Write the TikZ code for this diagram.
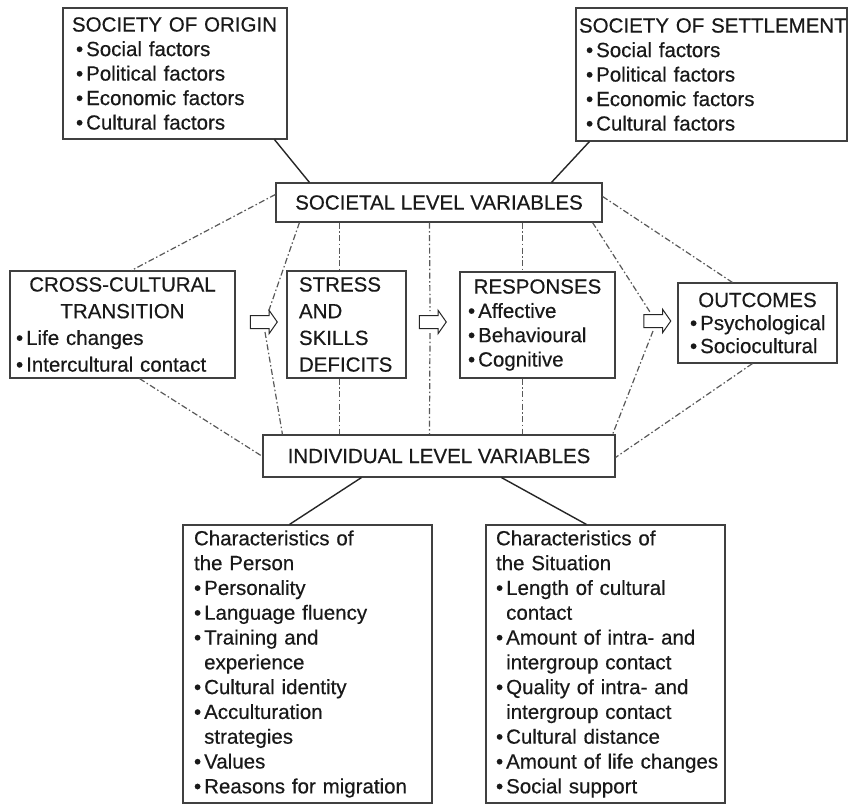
\documentclass[tikz,border=0pt]{standalone}
\usepackage{fontspec}
\setmainfont{Liberation Sans}[FakeBold=0.4]
\usetikzlibrary{shapes.arrows}

% bullet item, continuation line, centred heading, unbroken line
\newcommand\bi[1]{\mbox{\textbullet\hspace{3pt}#1}}
\newcommand\bc[1]{\mbox{\phantom{\textbullet}\hspace{3pt}#1}}
\newcommand\ctr[1]{\makebox[\linewidth][c]{#1}}
\newcommand\oneline[1]{\mbox{#1}}

\begin{document}
\begin{tikzpicture}[x=1pt,y=-1pt,
  box/.style={draw=black!75, line width=1.1pt, rectangle, inner sep=0pt,
    text=black!90, align=left},
  fnt/.style={font=\fontsize{20.5}{#1}\selectfont},
  hollowarrow/.style={single arrow, draw=black!85, line width=1pt, fill=white,
    minimum height=27pt, inner sep=0pt, inner ysep=6pt,
    single arrow head extend=5pt, single arrow tip angle=110},
  link/.style={draw=black!85, line width=1.4pt},
  conn/.style={draw=black!65, line width=1.2pt,
    dash pattern=on 6pt off 2.5pt on 1.5pt off 2.5pt}]

\fill[white] (0,0) rectangle (849,806);
\useasboundingbox (0,0) rectangle (849,806);

% societies
\node[box, fnt=24.5, minimum width=224, minimum height=131, text width=206]
  (origin) at (175,73.5) {\oneline{SOCIETY OF ORIGIN}\\
  \hspace*{4pt}\bi{Social factors}\\
  \hspace*{4pt}\bi{Political factors}\\
  \hspace*{4pt}\bi{Economic factors}\\
  \hspace*{4pt}\bi{Cultural factors}};

\node[box, fnt=24.5, minimum width=271, minimum height=133, text width=265]
  (settlement) at (711.5,74.5) {\oneline{SOCIETY OF SETTLEMENT}\\
  \hspace*{7pt}\bi{Social factors}\\
  \hspace*{7pt}\bi{Political factors}\\
  \hspace*{7pt}\bi{Economic factors}\\
  \hspace*{7pt}\bi{Cultural factors}};

% level variables
\node[box, fnt=24.5, align=center, minimum width=326, minimum height=39]
  (societal) at (439,202.5) {SOCIETAL LEVEL VARIABLES};
\node[box, fnt=24.5, align=center, minimum width=352, minimum height=42]
  (individual) at (439,456) {INDIVIDUAL LEVEL VARIABLES};

% process chain
\node[box, fnt=26.7, minimum width=225, minimum height=107, text width=215]
  (cct) at (122.5,324.5) {\ctr{CROSS-CULTURAL}\\
  \ctr{TRANSITION}\\
  \hspace*{1pt}\bi{Life changes}\\
  \hspace*{1pt}\bi{Intercultural contact}};

\node[box, fnt=26.7, minimum width=119, minimum height=107, text width=95]
  (stress) at (346.5,324.5) {\oneline{STRESS}\\ \oneline{AND}\\ \oneline{SKILLS}\\ \oneline{DEFICITS}};

\node[box, fnt=24.3, minimum width=155, minimum height=106, text width=139]
  (responses) at (537.5,325) {\ctr{RESPONSES}\\
  \bi{Affective}\\
  \bi{Behavioural}\\
  \bi{Cognitive}};

\node[box, fnt=23, minimum width=159, minimum height=80, text width=135]
  (outcomes) at (757.5,323) {\ctr{OUTCOMES}\\
  \bi{Psychological}\\
  \bi{Sociocultural}};

\node[hollowarrow] (a1) at (261.5,322) {};
\node[hollowarrow] (a2) at (430.5,322) {};
\node[hollowarrow] (a3) at (655,321) {};

% individual characteristics
\node[box, fnt=24.8, minimum width=249, minimum height=278, text width=227]
  (person) at (307.5,664) {\oneline{Characteristics of}\\
  \oneline{the Person}\\
  \bi{Personality}\\
  \bi{Language fluency}\\
  \bi{Training and}\\
  \bc{experience}\\
  \bi{Cultural identity}\\
  \bi{Acculturation}\\
  \bc{strategies}\\
  \bi{Values}\\
  \bi{Reasons for migration}};

\node[box, fnt=24.8, minimum width=239, minimum height=278, text width=219]
  (situation) at (605.5,664) {\oneline{Characteristics of}\\
  \oneline{the Situation}\\
  \bi{Length of cultural}\\
  \bc{contact}\\
  \bi{Amount of intra- and}\\
  \bc{intergroup contact}\\
  \bi{Quality of intra- and}\\
  \bc{intergroup contact}\\
  \bi{Cultural distance}\\
  \bi{Amount of life changes}\\
  \bi{Social support}};

% solid links
\draw[link] ([xshift=212pt]origin.south west) -- ([xshift=34pt]societal.north west);
\draw[link] ([xshift=14pt]settlement.south west) -- ([xshift=276pt]societal.north west);
\draw[link] ([xshift=99pt]individual.south west) -- ([xshift=107pt]person.north west);
\draw[link] ([xshift=239pt]individual.south west) -- ([xshift=101pt]situation.north west);

% dash-dot influences
\draw[conn] ([yshift=-12pt]societal.north west) -- ([xshift=122pt]cct.north west);
\draw[conn] ([xshift=24pt]societal.south west) -- ([xshift=6.5pt,yshift=9pt]a1.center);
\draw[conn] ([xshift=3.5pt,yshift=-10pt]a1.center) -- ([xshift=20pt]individual.north west);
\draw[conn] ([xshift=64pt]societal.south west) -- ([xshift=53pt]stress.north west);
\draw[conn] ([xshift=53pt]stress.south west) -- ([xshift=77pt]individual.north west);
\draw[conn] ([xshift=154pt]societal.south west) -- ([xshift=-0.5pt,yshift=11pt]a2.center);
\draw[conn] ([xshift=-0.5pt,yshift=-11pt]a2.center) -- ([xshift=167pt]individual.north west);
\draw[conn] ([xshift=247pt]societal.south west) -- ([xshift=63pt]responses.north west);
\draw[conn] ([xshift=63pt]responses.south west) -- ([xshift=260pt]individual.north west);
\draw[conn] ([yshift=-14pt]societal.north east) -- ([xshift=55pt]outcomes.north west);
\draw[conn] ([xshift=-10pt]societal.south east) -- ([xshift=-5pt,yshift=9pt]a3.center);
\draw[conn] ([xshift=-2pt,yshift=-10pt]a3.center) -- ([xshift=-3pt]individual.north east);
\draw[conn] ([xshift=130pt]cct.south west) -- ([yshift=-22pt]individual.north west);
\draw[conn] ([xshift=75pt]outcomes.south west) -- ([yshift=-23pt]individual.north east);

\end{tikzpicture}
\end{document}
